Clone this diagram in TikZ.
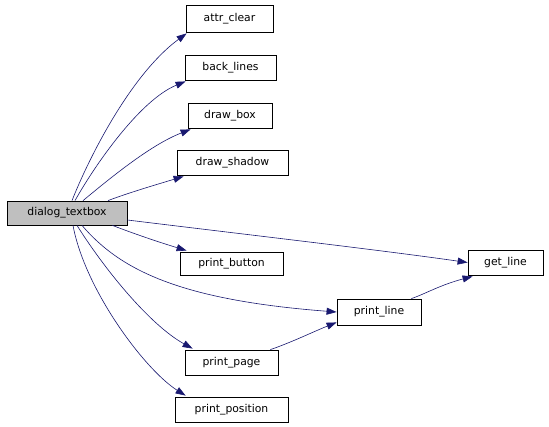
\documentclass[tikz,border=0pt]{standalone}
\usepackage{fontspec}
\setmainfont{DejaVu Sans}
\usetikzlibrary{arrows.meta}
\definecolor{edge}{HTML}{191970}
\begin{document}
\begin{tikzpicture}[x=1pt,y=-1pt,
  box/.style={draw=black,line width=0.8pt,fill=white,inner sep=0pt,font=\fontsize{10.8}{12}\selectfont},
  call/.style={draw=edge,line width=0.6pt,-{Triangle[length=10pt,width=7pt]}}]
\useasboundingbox (0,0) rectangle (549,427);
\node[box,fill={rgb,255:red,191;green,191;blue,191},minimum width=120pt,minimum height=24pt] (dt) at (67,213) {dialog\_textbox};
\node[box,minimum width=87pt,minimum height=27pt] (ac) at (229.5,18.5) {attr\_clear};
\node[box,minimum width=91pt,minimum height=25pt] (bl) at (230.5,67.5) {back\_lines};
\node[box,minimum width=84pt,minimum height=25pt] (db) at (230,115.5) {draw\_box};
\node[box,minimum width=111pt,minimum height=25pt] (ds) at (232.5,162.5) {draw\_shadow};
\node[box,minimum width=103pt,minimum height=23pt] (pb) at (231.5,263.5) {print\_button};
\node[box,minimum width=93pt,minimum height=25pt] (pp) at (231.5,362.5) {print\_page};
\node[box,minimum width=113pt,minimum height=25pt] (ppos) at (231.5,409.5) {print\_position};
\node[box,minimum width=75pt,minimum height=25pt] (gl) at (505.5,262.5) {get\_line};
\node[box,minimum width=84pt,minimum height=26pt] (pl) at (379,312) {print\_line};
\draw[call] ([xshift=5pt]dt.north) .. controls (88,160) and (130,75) .. ([xshift=1pt,yshift=-1pt]ac.south west);
\draw[call] ([xshift=8pt]dt.north) .. controls (95,165) and (140,100) .. ([xshift=1pt,yshift=-1pt]bl.south west);
\draw[call] ([xshift=16pt]dt.north) .. controls (108,180) and (150,145) .. ([xshift=3pt,yshift=-1pt]db.south west);
\draw[call] ([xshift=41pt]dt.north) .. controls (128,193) and (155,185) .. ([xshift=7pt,yshift=-1pt]ds.south west);
\draw[call] ([yshift=-7pt]dt.east) .. controls (250,235) and (380,250) .. (gl.west);
\draw[call] ([xshift=-15pt]dt.south east) .. controls (140,236) and (165,244) .. ([xshift=7pt,yshift=1pt]pb.north west);
\draw[call] ([xshift=15pt]dt.south) .. controls (120,270) and (180,300) .. (pl.west);
\draw[call] ([xshift=10pt]dt.south) .. controls (105,270) and (150,325) .. ([xshift=8pt,yshift=1pt]pp.north west);
\draw[call] ([xshift=6pt]dt.south) .. controls (85,290) and (145,370) .. ([xshift=11pt,yshift=1pt]ppos.north west);
\draw[call] ([xshift=-8pt]pp.north east) .. controls (290,343) and (315,331) .. ([yshift=3pt]pl.south west);
\draw[call] ([xshift=-10pt]pl.north east) .. controls (425,294) and (440,285) .. ([xshift=5pt,yshift=-1pt]gl.south west);
\end{tikzpicture}
\end{document}
